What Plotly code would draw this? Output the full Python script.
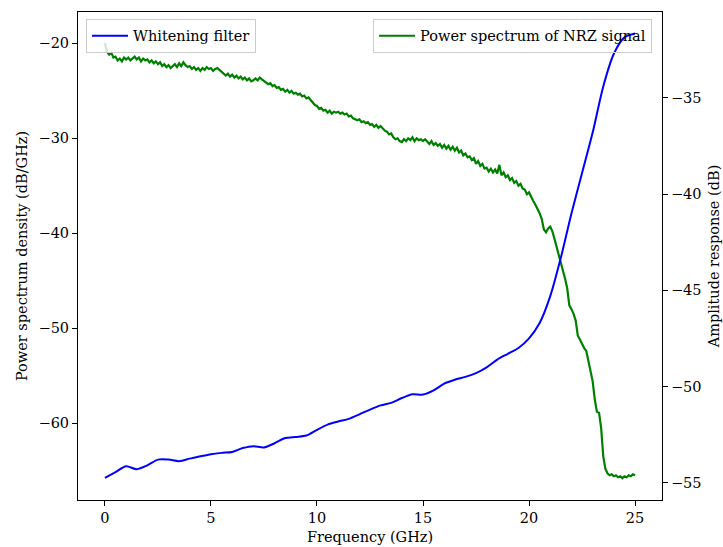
import numpy as np
import plotly.graph_objects as go

# ---- data ----
# Power spectrum of NRZ signal (dB/GHz), sampled every 0.1 GHz from 0 to 25 GHz
psd_values = [
    -20.0, -20.9, -21.2, -21.0, -21.5, -21.4, -21.8, -21.6, -21.9, -21.5,
    -21.7, -21.5, -21.8, -21.6, -21.4, -21.7, -21.5, -21.9, -21.6, -21.8,
    -21.7, -22.0, -21.8, -22.1, -21.9, -22.2, -22.0, -22.4, -22.2, -22.5,
    -22.3, -22.6, -22.4, -22.2, -22.5, -22.1, -22.4, -22.0, -22.3, -22.5,
    -22.4, -22.7, -22.5, -22.8, -22.6, -22.9, -22.6, -22.8, -22.5, -22.7,
    -22.6, -22.9, -22.7, -22.6, -22.8, -23.0, -23.2, -23.4, -23.2, -23.5,
    -23.3, -23.6, -23.4, -23.7, -23.5, -23.8, -23.6, -23.9, -23.7, -24.0,
    -23.9, -23.7, -23.9, -23.6, -23.8, -24.0, -24.1, -24.3, -24.2, -24.5,
    -24.4, -24.7, -24.6, -24.9, -24.8, -25.1, -24.9, -25.2, -25.0, -25.3,
    -25.2, -25.4, -25.3, -25.6, -25.5, -25.8, -25.7, -26.0, -26.2, -26.5,
    -26.6, -26.9, -26.8, -27.1, -27.0, -27.3, -27.1, -27.4, -27.2, -27.3,
    -27.2, -27.4, -27.3, -27.5, -27.4, -27.7, -27.6, -27.9, -28.0, -28.1,
    -28.0, -28.3, -28.2, -28.4, -28.3, -28.6, -28.5, -28.8, -28.6, -28.9,
    -28.7, -29.0, -29.2, -29.3, -29.6, -29.5, -29.9, -30.1, -30.0, -30.3,
    -30.4, -30.1, -30.3, -30.0, -30.2, -29.9, -30.3, -30.0, -30.2, -30.1,
    -30.3, -30.1, -30.4, -30.6, -30.3, -30.7, -30.5, -30.8, -30.6, -31.0,
    -30.7, -31.1, -30.8, -31.2, -30.9, -31.3, -31.0, -31.5, -31.3, -31.8,
    -31.6, -32.0, -31.9, -32.3, -32.1, -32.7, -32.4, -32.9, -32.7, -33.2,
    -33.1, -33.5, -33.2, -33.6, -33.3, -33.7, -32.8, -33.9, -33.6, -34.1,
    -33.9, -34.4, -34.2, -34.7, -34.5, -35.0, -34.8, -35.3, -35.4, -35.9,
    -35.7, -36.2, -36.6, -37.0, -37.4, -37.9, -38.5, -39.6, -39.9, -39.5,
    -39.3, -39.8, -40.6, -41.4, -42.3, -43.2, -44.0, -44.8, -45.8, -47.6,
    -48.0, -48.5, -49.2, -50.8, -51.2, -51.7, -52.1, -52.4, -53.5, -54.6,
    -55.6, -57.5, -58.8, -58.9, -60.5, -63.5, -64.8, -65.3, -65.5, -65.4,
    -65.6, -65.5, -65.7, -65.6, -65.8, -65.6, -65.7, -65.5, -65.6, -65.4,
    -65.5,
]
psd_freq = np.round(np.arange(len(psd_values)) * 0.1, 2)

# Whitening filter amplitude response (dB), every 0.5 GHz
filter_freq = [0.0, 0.5, 1.0, 1.5, 2.0, 2.5, 3.0, 3.5, 4.0, 4.5, 5.0, 5.5, 6.0,
               6.5, 7.0, 7.5, 8.0, 8.5, 9.0, 9.5, 10.0, 10.5, 11.0, 11.5, 12.0,
               12.5, 13.0, 13.5, 14.0, 14.5, 15.0, 15.5, 16.0, 16.5, 17.0, 17.5,
               18.0, 18.5, 19.0, 19.5, 20.0, 20.5, 21.0, 21.5, 22.0, 22.5, 23.0,
               23.5, 24.0, 24.5, 25.0]
filter_values = [-54.75, -54.45, -54.15, -54.3, -54.1, -53.8, -53.8, -53.88,
                 -53.75, -53.63, -53.52, -53.45, -53.4, -53.2, -53.1, -53.17,
                 -52.95, -52.68, -52.62, -52.55, -52.25, -51.98, -51.82, -51.68,
                 -51.45, -51.2, -50.98, -50.85, -50.6, -50.4, -50.42, -50.2,
                 -49.85, -49.65, -49.5, -49.3, -49.0, -48.6, -48.3, -48.0,
                 -47.5, -46.7, -45.3, -43.3, -41.0, -38.9, -36.8, -34.4,
                 -32.7, -31.85, -31.65]

x_ticks = [0, 5, 10, 15, 20, 25]
left_ticks = [-60, -50, -40, -30, -20]
right_ticks = [-55, -50, -45, -40, -35]

FONT = "DejaVu Serif"
FS = 14.5

fig = go.Figure()
fig.add_trace(go.Scatter(
    x=psd_freq, y=psd_values, mode="lines", name="Power spectrum of NRZ signal",
    line=dict(color="#008000", width=2.2), yaxis="y", legend="legend2"))
fig.add_trace(go.Scatter(
    x=filter_freq, y=filter_values, mode="lines", name="Whitening filter",
    line=dict(color="#0000ff", width=2, shape="spline", smoothing=0.8),
    yaxis="y2", legend="legend"))

axis_common = dict(showline=True, linecolor="black", linewidth=1, ticks="outside",
                   ticklen=5, tickcolor="black", showgrid=False, zeroline=False,
                   automargin=False,
                   tickfont=dict(family=FONT, size=FS, color="black"))

fig.update_layout(
    width=723, height=547,
    margin=dict(l=78, r=61, t=12, b=47),
    plot_bgcolor="white", paper_bgcolor="white",
    font=dict(family=FONT, size=FS, color="black"),
    showlegend=True,
    xaxis=dict(range=[-1.27, 26.27], tickvals=x_ticks, mirror=True,
               title=dict(text="Frequency (GHz)", font=dict(family=FONT, size=FS), standoff=6),
               **axis_common),
    yaxis=dict(range=[-68.1, -16.7], tickvals=left_ticks, mirror=True,
               title=dict(text="Power spectrum density (dB/GHz)", font=dict(family=FONT, size=FS), standoff=7),
               **axis_common),
    yaxis2=dict(range=[-55.9, -30.53], tickvals=right_ticks, overlaying="y", side="right",
                title=dict(text="Amplitude response (dB)", font=dict(family=FONT, size=FS), standoff=8),
                **axis_common),
    legend=dict(x=0.0137, y=0.986, xanchor="left", yanchor="top",
                bgcolor="rgba(255,255,255,0.8)", bordercolor="#cccccc", borderwidth=1,
                font=dict(family=FONT, size=FS), itemwidth=36, tracegroupgap=0,
                visible=True),
    legend2=dict(x=0.983, y=0.986, xanchor="right", yanchor="top",
                 bgcolor="rgba(255,255,255,0)", bordercolor="#cccccc", borderwidth=1,
                 font=dict(family=FONT, size=FS), itemwidth=36, tracegroupgap=0,
                 visible=True),
)

fig.write_html("out.html")
